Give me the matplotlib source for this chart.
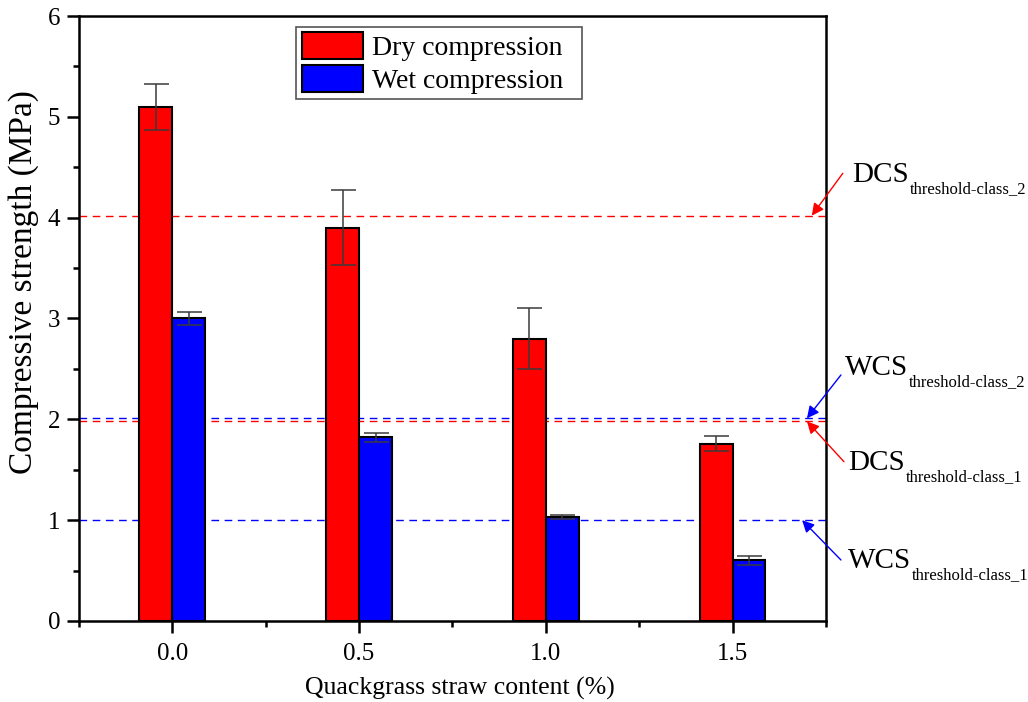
import matplotlib
matplotlib.use("Agg")
import matplotlib.pyplot as plt
from matplotlib.ticker import MultipleLocator
import numpy as np

# Data
straw_content = [0.0, 0.5, 1.0, 1.5]
dry_strength = [5.10, 3.90, 2.80, 1.76]
dry_err = [0.23, 0.37, 0.30, 0.07]
wet_strength = [3.00, 1.82, 1.03, 0.60]
wet_err = [0.06, 0.04, 0.02, 0.04]
x_tick_labels = ['0.0', '0.5', '1.0', '1.5']

# Threshold lines (MPa)
dcs_class_2 = 4.02
dcs_class_1 = 1.98
wcs_class_2 = 2.01
wcs_class_1 = 1.00

plt.rcParams['font.family'] = ['Liberation Serif', 'DejaVu Serif']

fig = plt.figure(figsize=(10.28, 7.02), dpi=100)
ax = fig.add_axes([0.0768, 0.1154, 0.7267, 0.8618])

bar_w = 0.088
x = np.array(straw_content)
err_kw = dict(ecolor='#3a3a3a', elinewidth=1.1, capsize=9, capthick=1.1)
ax.bar(x - bar_w / 2, dry_strength, bar_w, yerr=dry_err, color='#ff0000',
       edgecolor='black', linewidth=1.5, label='Dry compression',
       error_kw=err_kw, zorder=2)
ax.bar(x + bar_w / 2, wet_strength, bar_w, yerr=wet_err, color='#0000ff',
       edgecolor='black', linewidth=1.5, label='Wet compression',
       error_kw=err_kw, zorder=2)

# Threshold lines
dash = dict(linestyle=(0, (5.5, 4)), linewidth=1.0, zorder=1)
ax.axhline(dcs_class_2, color='#ff0000', **dash)
ax.axhline(dcs_class_1, color='#ff0000', **dash)
ax.axhline(wcs_class_2, color='#0000ff', **dash)
ax.axhline(wcs_class_1, color='#0000ff', **dash)

ax.set_xlim(-0.25, 1.75)
ax.set_ylim(0, 6)
ax.set_xticks(straw_content)
ax.set_xticklabels(x_tick_labels)
ax.xaxis.set_minor_locator(MultipleLocator(0.25))
ax.yaxis.set_major_locator(MultipleLocator(1))
ax.yaxis.set_minor_locator(MultipleLocator(0.5))
ax.tick_params(axis='both', which='both', direction='out', width=1.8,
               labelsize=18, top=False, right=False)
ax.tick_params(axis='both', which='major', length=8.5, pad=5)
ax.tick_params(axis='both', which='minor', length=4.5)
ax.tick_params(axis='x', which='major', pad=7)
for sp in ax.spines.values():
    sp.set_linewidth(1.8)

ax.set_xlabel('Quackgrass straw content (%)', fontsize=18.5)
ax.xaxis.set_label_coords(0.51, -0.092)
ax.set_ylabel('Compressive strength (MPa)', fontsize=24)
ax.yaxis.set_label_coords(-0.053, 0.56)

leg = ax.legend(loc='upper left', bbox_to_anchor=(0.2905, 0.5, 0.383, 0.482),
                mode='expand', fontsize=20,
                handlelength=2.2, handleheight=1.08, handletextpad=0.35,
                borderpad=0.2, labelspacing=0.15, fancybox=False,
                framealpha=1, borderaxespad=0)
leg.get_frame().set_edgecolor('#555555')
leg.get_frame().set_linewidth(1.2)

# Annotations pointing at the threshold lines
notes = [
    ('DCS', 'threshold-class_2', '#ff0000', (1.712, dcs_class_2), (1.795, 4.44), (852, 182)),
    ('WCS', 'threshold-class_2', '#0000ff', (1.699, wcs_class_2), (1.79, 2.44), (845, 375)),
    ('DCS', 'threshold-class_1', '#ff0000', (1.699, dcs_class_1), (1.798, 1.58), (848, 470)),
    ('WCS', 'threshold-class_1', '#0000ff', (1.686, wcs_class_1), (1.79, 0.605), (848, 568)),
]
for main, sub, col, head, tail, txt in notes:
    ax.annotate('', xy=head, xytext=tail, xycoords='data', textcoords='data',
                annotation_clip=False,
                arrowprops=dict(arrowstyle='-|>', color=col, lw=1.0,
                                mutation_scale=18, shrinkA=0, shrinkB=0))
    t = fig.text(txt[0] / 1028, 1 - txt[1] / 702, main, fontsize=21,
                 va='baseline', ha='left')
    fig.canvas.draw()
    bb = t.get_window_extent()
    fig.text((bb.x1 + 1) / 1028, 1 - (txt[1] + 11) / 702, sub, fontsize=12,
             va='baseline', ha='left')

fig.savefig('out.png', dpi=100)
